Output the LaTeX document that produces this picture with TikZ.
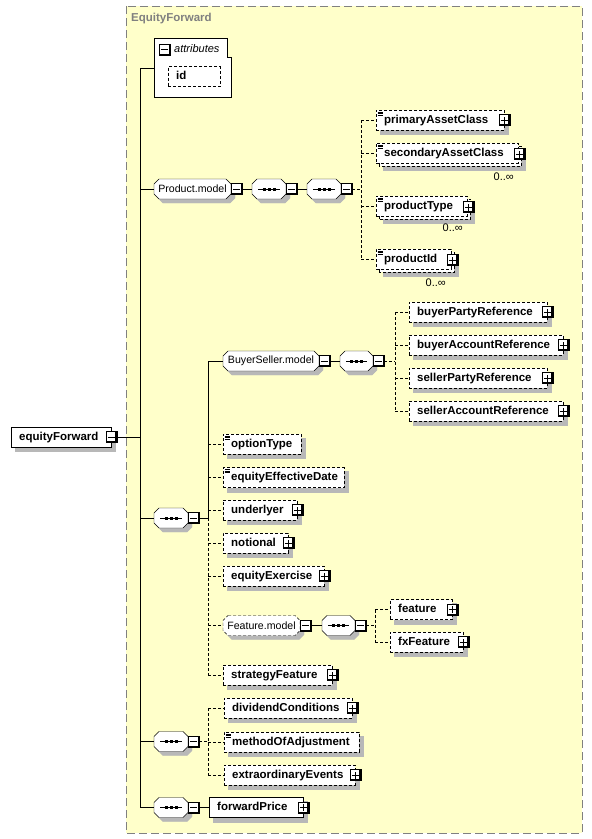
\documentclass[tikz,border=0pt]{standalone}
\usepackage{fontspec}
\setsansfont{Liberation Sans}
\pgfdeclarelayer{frame}
\pgfdeclarelayer{shade}
\pgfdeclarelayer{box}
\pgfsetlayers{frame,shade,box,main}
\definecolor{schemabg}{HTML}{FFFFCA}

\begin{document}
\begin{tikzpicture}[x=1pt,y=-1pt,line width=1pt,
		elem_style/.style={rectangle,draw=black,fill=white,anchor=west,inner xsep=8pt,
			minimum height=20pt,text height=8.5pt,text depth=2.5pt,align=left,
			font=\sffamily\bfseries\fontsize{11.5}{13}\selectfont},
		opt_style/.style={dash pattern=on 3pt off 2pt},
		simple_style/.style={path picture={
			\foreach \d in {2,3.5,5}
				\draw[solid,line width=0.6pt] ([xshift=1.5pt,yshift=-\d pt]path picture bounding box.north west) -- ++(5pt,0pt);}},
		group_style/.style={rectangle,draw=none,anchor=west,inner sep=0pt,outer sep=0pt,minimum height=20pt,
			font=\sffamily\fontsize{10.6}{12}\selectfont},
		seq_style/.style={group_style,path picture={
			\draw[solid] ([xshift=6pt]path picture bounding box.west) -- ([xshift=-6pt]path picture bounding box.east);
			\foreach \d in {-5,0,5}
				\fill ([xshift=\d pt-1.5pt,yshift=-1.5pt]path picture bounding box.center) rectangle ++(3pt,3pt);}},
		pm_style/.style={rectangle,draw=black,fill=white,solid,minimum size=11pt,inner sep=0pt},
		plus_style/.style={pm_style,path picture={
			\draw[line width=3pt] (path picture bounding box.north east) -- (path picture bounding box.south east) -- (path picture bounding box.south west);
			\draw[solid] ([xshift=-3.5pt]path picture bounding box.center) -- ++(7pt,0pt);
			\draw[solid] ([yshift=-3.5pt]path picture bounding box.center) -- ++(0pt,7pt);}},
		minus_style/.style={pm_style,path picture={
			\draw[line width=3pt] (path picture bounding box.north east) -- (path picture bounding box.south east) -- (path picture bounding box.south west);
			\draw[solid] ([xshift=-3.5pt]path picture bounding box.center) -- ++(7pt,0pt);}},
		mult_style/.style={anchor=east,inner sep=0pt,font=\sffamily\fontsize{11}{13}\selectfont},
		link_style/.style={draw=black},
		optlink_style/.style={draw=black,dash pattern=on 3pt off 2pt},
		shadow_style/.style={fill=black!28,draw=black!28,solid},
		octagon/.style 2 args={insert path={([xshift=5pt+#2,yshift=-#2]#1.north west) -- ([xshift=-5pt+#2,yshift=-#2]#1.north east)
			-- ([xshift=#2,yshift=-5pt-#2]#1.north east) -- ([xshift=#2,yshift=5pt-#2]#1.south east)
			-- ([xshift=-5pt+#2,yshift=-#2]#1.south east) -- ([xshift=5pt+#2,yshift=-#2]#1.south west)
			-- ([xshift=#2,yshift=5pt-#2]#1.south west) -- ([xshift=#2,yshift=-5pt-#2]#1.north west) -- cycle}}]

		\useasboundingbox (0,0) rectangle (592,839);

		% complex type frame
		\begin{pgfonlayer}{frame}
		\draw[draw=black!50,fill=schemabg,dash pattern=on 8pt off 4pt] (126,6) rectangle (582,833);
		\end{pgfonlayer}
		\node[anchor=west,inner sep=0pt,text=black!50,font=\sffamily\bfseries\fontsize{11.5}{13}\selectfont] (title) at (131,19) {EquityForward};

		% root element
		\node[elem_style,text width=84pt] (ef) at (11,437) {equityForward};
		\node[minus_style] (efm) at (ef.east) {};

		% attributes
		\draw[draw=black,fill=white] (154,38) -- (227,38) -- (227,57) -- (231.5,57) -- (231.5,97.5) -- (154,97.5) -- cycle;
		\coordinate (attr) at (154,68);
		\node[minus_style] (attrm) at (164.5,49.5) {};
		\node[anchor=west,inner sep=0pt,font=\sffamily\itshape\fontsize{11}{13}\selectfont] (attrt) at (174,49) {attributes};
		\node[elem_style,opt_style,text width=36pt] (id) at (168,76.5) {id};

		% Product.model
		\node[group_style,minimum width=77pt] (pm) at (154,189) {Product.model};
		\node[minus_style,anchor=west] (pmm) at (pm.east) {};
		\node[seq_style,minimum width=34pt] (ps1) at (252,189) {};
		\node[minus_style,anchor=west] (ps1m) at (ps1.east) {};
		\node[seq_style,minimum width=34pt] (ps2) at (307,189) {};
		\node[minus_style,anchor=west] (ps2m) at (ps2.east) {};
		\coordinate (pb) at (361,189);

		\node[elem_style,opt_style,simple_style,text width=112pt] (pac) at (376,120) {primaryAssetClass};
		\node[plus_style] (pacp) at (pac.east) {};
		\node[elem_style,opt_style,simple_style,text width=126pt] (sac) at (376,153) {secondaryAssetClass};
		\node[plus_style] (sacp) at ([shift={(1,1)}]sac.east) {};
		\node[mult_style] (sacn) at (514,177) {0..∞};
		\node[elem_style,opt_style,simple_style,text width=75pt] (ptype) at (376,206) {productType};
		\node[plus_style] (ptypep) at ([shift={(1,1)}]ptype.east) {};
		\node[mult_style] (ptypen) at (463,228) {0..∞};
		\node[elem_style,opt_style,simple_style,text width=59pt] (pid) at (376,259) {productId};
		\node[plus_style] (pidp) at ([shift={(1,1)}]pid.east) {};
		\node[mult_style] (pidn) at (446,283) {0..∞};

		% BuyerSeller.model
		\node[group_style,minimum width=96pt] (bs) at (223,361) {BuyerSeller.model};
		\node[minus_style,anchor=west] (bsm) at (bs.east) {};
		\node[seq_style,minimum width=33pt] (bss) at (340,361) {};
		\node[minus_style,anchor=west] (bssm) at (bss.east) {};
		\coordinate (bb) at (395,361);

		\node[elem_style,opt_style,text width=122pt] (bpr) at (409,312) {buyerPartyReference};
		\node[plus_style] (bprp) at (bpr.east) {};
		\node[elem_style,opt_style,text width=138pt] (bar) at (409,345) {buyerAccountReference};
		\node[plus_style] (barp) at (bar.east) {};
		\node[elem_style,opt_style,text width=122pt] (spr) at (409,378) {sellerPartyReference};
		\node[plus_style] (sprp) at (spr.east) {};
		\node[elem_style,opt_style,text width=138pt] (sar) at (409,411) {sellerAccountReference};
		\node[plus_style] (sarp) at (sar.east) {};

		% main sequence
		\node[seq_style,minimum width=34pt] (ms) at (154,518) {};
		\node[minus_style,anchor=west] (msm) at (ms.east) {};
		\coordinate (mb) at (208,518);

		\node[elem_style,opt_style,simple_style,text width=62pt] (opt) at (223,444) {optionType};
		\node[elem_style,opt_style,simple_style,text width=105pt] (eed) at (223,477.5) {equityEffectiveDate};
		\node[elem_style,opt_style,text width=58pt] (und) at (223,510) {underlyer};
		\node[plus_style] (undp) at (und.east) {};
		\node[elem_style,opt_style,text width=49pt] (ntl) at (223,543) {notional};
		\node[plus_style] (ntlp) at (ntl.east) {};
		\node[elem_style,opt_style,text width=85pt] (eex) at (223,576) {equityExercise};
		\node[plus_style] (eexp) at (eex.east) {};

		\node[group_style,minimum width=77pt] (fm) at (223,625.5) {Feature.model};
		\node[minus_style,anchor=west] (fmm) at (fm.east) {};
		\node[seq_style,minimum width=33pt] (fs) at (322,625.5) {};
		\node[minus_style,anchor=west] (fsm) at (fs.east) {};
		\coordinate (fb) at (375,625.5);
		\node[elem_style,opt_style,text width=46pt] (feat) at (390,609.5) {feature};
		\node[plus_style] (featp) at (feat.east) {};
		\node[elem_style,opt_style,text width=57pt] (fxf) at (390,642) {fxFeature};
		\node[plus_style] (fxfp) at (fxf.east) {};

		\node[elem_style,opt_style,text width=93pt] (stf) at (223,675) {strategyFeature};
		\node[plus_style] (stfp) at (stf.east) {};

		% dividend sequence
		\node[seq_style,minimum width=34pt] (ds) at (154,741.5) {};
		\node[minus_style,anchor=west] (dsm) at (ds.east) {};
		\coordinate (db) at (208,741.5);
		\node[elem_style,opt_style,text width=112pt] (dc) at (224,708) {dividendConditions};
		\node[plus_style] (dcp) at (dc.east) {};
		\node[elem_style,opt_style,simple_style,text width=119pt] (moa) at (224,742) {methodOfAdjustment};
		\node[elem_style,opt_style,text width=115pt] (eev) at (224,775) {extraordinaryEvents};
		\node[plus_style] (eevp) at (eev.east) {};

		% forward price sequence
		\node[seq_style,minimum width=34pt] (fps) at (154,807.5) {};
		\node[minus_style,anchor=west] (fpsm) at (fps.east) {};
		\node[elem_style,text width=78pt] (fp) at (209,807.5) {forwardPrice};
		\node[plus_style] (fpp) at (fp.east) {};

		% group outlines
		\begin{pgfonlayer}{box}
		\foreach \n in {pm,ps1,ps2,bs,bss,ms,fs,ds,fps}
			\draw[fill=white,octagon={\n}{0pt}];
		\draw[fill=white,opt_style,octagon={fm}{0pt}];
		\end{pgfonlayer}

		% shadows
		\begin{pgfonlayer}{shade}
		\foreach \n in {ef,id,pac,bpr,bar,spr,sar,opt,eed,und,ntl,eex,feat,fxf,stf,dc,moa,eev,fp}
			\draw[shadow_style] ([xshift=4pt,yshift=-4pt]\n.south west) rectangle ([xshift=4pt,yshift=-4pt]\n.north east);
		\foreach \n in {pm,ps1,ps2,bs,bss,ms,fm,fs,ds,fps}
			\draw[shadow_style,octagon={\n}{4pt}];
		\foreach \n in {sac,ptype,pid} {
			\draw[shadow_style] ([xshift=7pt,yshift=-7pt]\n.south west) rectangle ([xshift=7pt,yshift=-7pt]\n.north east);
			\draw[fill=white,opt_style] ([xshift=3pt,yshift=-3pt]\n.south west) rectangle ([xshift=3pt,yshift=-3pt]\n.north east);
		}
		\end{pgfonlayer}

		% trunk
		\coordinate (t0) at (140,68);
		\coordinate (t1) at (140,807.5);
		\draw[link_style] (efm.east) -- (efm.east -| t0);
		\draw[link_style] (t0) -- (t1);
		\draw[link_style] (t0) -- (attr);
		\draw[link_style] (pm.west -| t0) -- (pm.west);
		\draw[link_style] (ms.west -| t0) -- (ms.west);
		\draw[link_style] (ds.west -| t0) -- (ds.west);
		\draw[link_style] (t1) -- (fps.west);

		% Product.model links
		\draw[link_style] (pmm.east) -- (ps1.west);
		\draw[link_style] (ps1m.east) -- (ps2.west);
		\draw[optlink_style] (ps2m.east) -- (pb);
		\draw[optlink_style] (pb |- pac.west) -- (pb |- pid.west);
		\draw[optlink_style] (pb |- pac.west) -- (pac.west);
		\draw[optlink_style] (pb |- sac.west) -- (sac.west);
		\draw[optlink_style] (pb |- ptype.west) -- (ptype.west);
		\draw[optlink_style] (pb |- pid.west) -- (pid.west);

		% BuyerSeller.model links
		\draw[link_style] (bsm.east) -- (bss.west);
		\draw[optlink_style] (bssm.east) -- (bb);
		\draw[optlink_style] (bb |- bpr.west) -- (bb |- sar.west);
		\draw[optlink_style] (bb |- bpr.west) -- (bpr.west);
		\draw[optlink_style] (bb |- bar.west) -- (bar.west);
		\draw[optlink_style] (bb |- spr.west) -- (spr.west);
		\draw[optlink_style] (bb |- sar.west) -- (sar.west);

		% main sequence links
		\draw[link_style] (msm.east) -- (mb);
		\draw[link_style] (mb |- bs.west) -- (mb);
		\draw[optlink_style] (mb) -- (mb |- stf.west);
		\draw[link_style] (mb |- bs.west) -- (bs.west);
		\draw[optlink_style] (mb |- opt.west) -- (opt.west);
		\draw[optlink_style] (mb |- eed.west) -- (eed.west);
		\draw[optlink_style] (mb |- und.west) -- (und.west);
		\draw[optlink_style] (mb |- ntl.west) -- (ntl.west);
		\draw[optlink_style] (mb |- eex.west) -- (eex.west);
		\draw[optlink_style] (mb |- fm.west) -- (fm.west);
		\draw[optlink_style] (mb |- stf.west) -- (stf.west);
		\draw[link_style] (fmm.east) -- (fs.west);
		\draw[optlink_style] (fsm.east) -- (fb);
		\draw[optlink_style] (fb |- feat.west) -- (fb |- fxf.west);
		\draw[optlink_style] (fb |- feat.west) -- (feat.west);
		\draw[optlink_style] (fb |- fxf.west) -- (fxf.west);

		% dividend and forward price links
		\draw[optlink_style] (dsm.east) -- (db);
		\draw[optlink_style] (db |- dc.west) -- (db |- eev.west);
		\draw[optlink_style] (db |- dc.west) -- (dc.west);
		\draw[optlink_style] (db |- moa.west) -- (moa.west);
		\draw[optlink_style] (db |- eev.west) -- (eev.west);
		\draw[link_style] (fpsm.east) -- (fp.west);

		\end{tikzpicture}
\end{document}
